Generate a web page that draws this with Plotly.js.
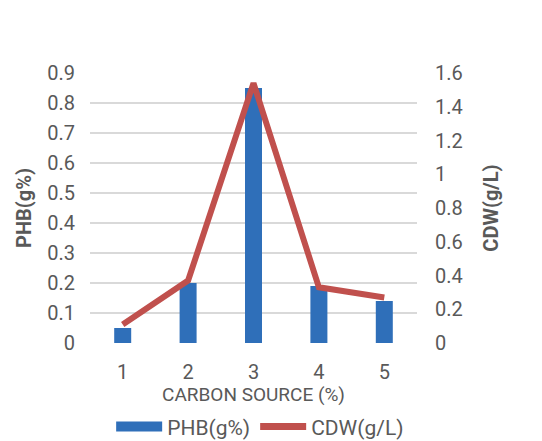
<!DOCTYPE html>
<html>
<head>
<meta charset="utf-8">
<script src="https://cdn.plot.ly/plotly-3.0.1.min.js"></script>
<style>html,body{margin:0;padding:0;background:#fff;}#chart{width:542px;height:441px;}</style>
</head>
<body>
<div id="chart"></div>
<script>
const categories = ["1", "2", "3", "4", "5"];
const phbValues = [0.05, 0.20, 0.85, 0.19, 0.14];
const cdwValues = [0.11, 0.37, 1.54, 0.33, 0.27];
const leftTicks = [0, 0.1, 0.2, 0.3, 0.4, 0.5, 0.6, 0.7, 0.8, 0.9];
const leftTickText = ["0", "0.1", "0.2", "0.3", "0.4", "0.5", "0.6", "0.7", "0.8", "0.9"];
const rightTicks = [0, 0.2, 0.4, 0.6, 0.8, 1, 1.2, 1.4, 1.6];
const rightTickText = ["0", "0.2", "0.4", "0.6", "0.8", "1", "1.2", "1.4", "1.6"];

const gray = "#595959";
const blue = "#2f6fb9";
const red = "#c0504d";
const fontFam = "Roboto, 'Open Sans', sans-serif";

const traces = [
  {
    type: "bar",
    name: "PHB(g%)",
    x: categories,
    y: phbValues,
    width: 0.26,
    marker: {color: blue, line: {width: 0}},
    yaxis: "y",
    showlegend: false
  },
  {
    type: "scatter",
    mode: "lines",
    name: "CDW(g/L)",
    x: categories,
    y: cdwValues,
    line: {color: red, width: 6},
    yaxis: "y2",
    showlegend: false
  },
  // legend-only entries (no data drawn)
  {
    type: "scatter", mode: "lines", name: "PHB(g%)",
    x: [null], y: [null], line: {color: blue, width: 10}, yaxis: "y", showlegend: true
  },
  {
    type: "scatter", mode: "lines", name: "CDW(g/L)",
    x: [null], y: [null], line: {color: red, width: 7}, yaxis: "y2", showlegend: true
  }
];

const layout = {
  width: 542,
  height: 441,
  margin: {l: 90, r: 125, t: 73, b: 98},
  paper_bgcolor: "#ffffff",
  plot_bgcolor: "#ffffff",
  font: {family: fontFam, color: gray, size: 20},
  showlegend: true,
  legend: {
    orientation: "h",
    xref: "container", yref: "container",
    x: 0.48, xanchor: "center",
    y: 0.032, yanchor: "middle",
    font: {size: 21, color: gray},
    itemwidth: 46,
    traceorder: "normal"
  },
  xaxis: {
    type: "category",
    automargin: false,
    tickvals: categories,
    ticktext: categories,
    showgrid: false,
    showline: false,
    zeroline: false,
    ticks: "",
    ticklabelstandoff: 15,
    tickfont: {size: 20, color: gray},
    title: {text: "CARBON SOURCE (%)", font: {size: 19, color: gray}, standoff: 2}
  },
  yaxis: {
    automargin: false,
    range: [0, 0.9],
    tickvals: leftTicks,
    ticktext: leftTickText,
    showgrid: true,
    gridcolor: "#d9d9d9",
    gridwidth: 1.5,
    zeroline: false,
    showline: false,
    ticks: "",
    ticklabelstandoff: 14,
    tickfont: {size: 20, color: gray},
    title: {text: "<b>PHB(g%)</b>", font: {size: 20, color: gray}, standoff: 10}
  },
  yaxis2: {
    automargin: false,
    range: [0, 1.6],
    overlaying: "y",
    side: "right",
    tickvals: rightTicks,
    ticktext: rightTickText,
    showgrid: false,
    zeroline: false,
    showline: false,
    ticks: "",
    ticklabelstandoff: 17,
    tickfont: {size: 20, color: gray},
    title: {text: "<b>CDW(g/L)</b>", font: {size: 20, color: gray}, standoff: 22}
  }
};

Plotly.newPlot("chart", traces, layout, {displayModeBar: false, staticPlot: true});
</script>
</body>
</html>
